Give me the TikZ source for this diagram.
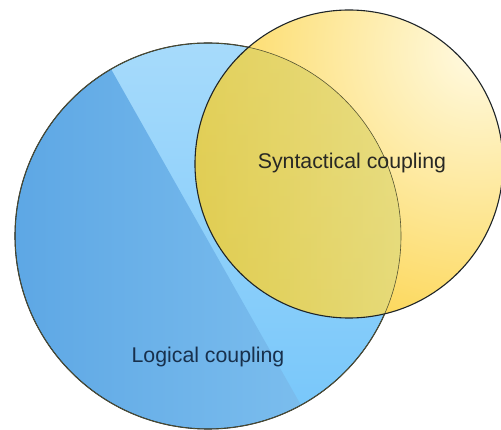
\documentclass[tikz,border=0pt]{standalone}
\usepackage{fontspec}
\setmainfont{Liberation Sans}

\definecolor{blueDark}{RGB}{92,166,228}
\definecolor{blueMid}{RGB}{124,190,238}
\definecolor{blueLight}{RGB}{172,221,251}
\definecolor{blueLow}{RGB}{118,198,250}
\definecolor{yelGold}{RGB}{252,214,84}
\definecolor{yelPale}{RGB}{255,250,226}
\definecolor{ovLeft}{RGB}{224,202,72}
\definecolor{ovRight}{RGB}{234,224,140}
\definecolor{ovLow}{RGB}{222,208,86}
\definecolor{outline}{RGB}{30,36,40}
\definecolor{txtDark}{RGB}{40,40,36}
\definecolor{txtBlue}{RGB}{24,48,76}

\tikzset{
  rim/.style={draw=outline, line width=1.1pt},
  thinrim/.style={draw=outline!70!ovLeft, line width=0.6pt},
  caption/.style={font=\fontsize{21.3}{24}\selectfont, inner sep=0pt}
}

\begin{document}
\begin{tikzpicture}[x=1pt, y=-1pt]
  \useasboundingbox (0,0) rectangle (501,430);

  % logical coupling circle: light body with a darker band on the left
  \begin{scope}
    \clip (208,236) circle (193);
    \shade[top color=blueLight, bottom color=blueLow] (0,0) rectangle (501,430);
    \shade[left color=blueDark, right color=blueMid]
      (0,0) -- (72,0) -- (315,430) -- (0,430) -- cycle;
  \end{scope}
  \node[rim, circle, minimum size=386pt, inner sep=0pt] (logic) at (208,236) {};

  % syntactical coupling circle: golden rim fading to a pale top right
  \begin{scope}
    \clip (349,164) circle (154);
    \shade[inner color=yelPale, outer color=yelGold] (478,50) circle (300);
    % overlap with the logical circle
    \clip (208,236) circle (193);
    \shade[top color=ovRight, bottom color=ovLow] (190,0) rectangle (501,330);
    \shade[left color=ovLeft, right color=ovRight, fill opacity=0.7]
      (190,0) rectangle (420,330);
  \end{scope}
  \node[thinrim, circle, minimum size=386pt, inner sep=0pt] (logicin) at (208,236) {};
  \node[rim, circle, minimum size=308pt, inner sep=0pt] (syntax) at (349,164) {};

  % captions
  \node[caption, text=txtDark] (syntxt) at (352,163) {Syntactical coupling};
  \node[caption, text=txtBlue] (logtxt) at (208,357) {Logical coupling};
\end{tikzpicture}
\end{document}
